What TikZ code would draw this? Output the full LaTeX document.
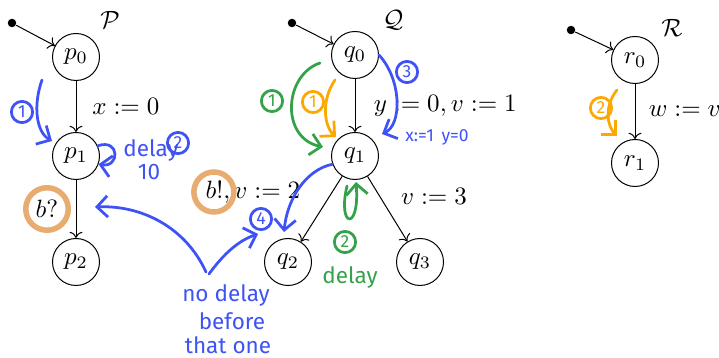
\documentclass[tikz,border=0pt]{standalone}
\usepackage{amsmath}
\usepackage{fontspec}
\newfontfamily\handfont{Fira Sans}
\usetikzlibrary{arrows.meta,positioning,calc}
\definecolor{penblue}{RGB}{62,82,245}
\definecolor{pengreen}{RGB}{52,162,72}
\definecolor{penorange}{RGB}{252,168,0}
\definecolor{markorange}{RGB}{232,172,112}
\tikzset{
  state/.style={draw, circle, minimum size=18.8pt, inner sep=0pt},
  init/.style={circle, fill, inner sep=1.2pt},
  pen/.style={line width=1.1pt, line cap=round, line join=round},
  penarrow/.style={pen, -{Straight Barb[length=1.5mm, width=3mm]}},
  note/.style={font=\handfont\small, inner sep=0pt},
  num/.style={draw, circle, pen, inner sep=0.4pt, minimum size=8.5pt, font=\handfont\scriptsize},
  hilite/.style={draw=markorange, line width=2.2pt},
}
\begin{document}
\begin{tikzpicture}[x=0.4pt, y=-0.4pt]
  \useasboundingbox (0,0) rectangle (719,358);
  % automaton P
  \node[state] (p0) at (76,57) {$p_0$};
  \node[state] (p1) at (76,156) {$p_1$};
  \node[state] (p2) at (76,262) {$p_2$};
  \node[init] (ip) at (12,23) {};
  \node (lP) at (110,20) {$\mathcal{P}$};
  \node[circle, hilite, minimum size=17pt, inner sep=0pt] (lbp) at (47,209) {$b?$};
  \draw[->] (ip) -- (p0);
  \draw[->] (p0) -- node[right=3pt] {$x := 0$} (p1);
  \draw[->] (p1) -- (p2);

  % automaton Q
  \node[state] (q0) at (355,55) {$q_0$};
  \node[state] (q1) at (355,156) {$q_1$};
  \node[state] (q2) at (288,262) {$q_2$};
  \node[state] (q3) at (420,262) {$q_3$};
  \node[init] (iq) at (292,23) {};
  \node (lQ) at (393,20) {$\mathcal{Q}$};
  \node (lq2) at (253,192) {$b!, v := 2$};
  \node (lq3) at (434,196) {$v := 3$};
  \draw[->] (iq) -- (q0);
  \draw[->] (q0) -- node[right=4pt] {$y := 0, v := 1$} (q1);
  \draw[->] (q1) -- (q2);
  \draw[->] (q1) -- (q3);
  \draw[hilite] ($(lq2.west)+(17,0)$) circle (8pt);

  % automaton R
  \node[state] (r0) at (635,60) {$r_0$};
  \node[state] (r1) at (635,163) {$r_1$};
  \node[init] (ir) at (571,30) {};
  \node (lR) at (672,28) {$\mathcal{R}$};
  \draw[->] (ir) -- (r0);
  \draw[->] (r0) -- node[right=2pt] {$w := v$} (r1);

  % blue notes
  \begin{scope}[penblue]
    \draw[penarrow] (42,80) .. controls (33,105) and (36,132) .. (52,141);
    \node[num] (b1) at (22,112) {1};
    \draw[penarrow] (p1.25) .. controls (120,138) and (120,168) .. (p1.-20);
    \node[note] (nd1) at (151,150) {delay};
    \node[num] (b2) at (178,143) {2};
    \node[note] (nd2) at (149,172) {10};
    \draw[penarrow] (q0.east) .. controls (402,80) and (402,125) .. (382,134);
    \node[num] (b3) at (407,72) {3};
    \node[note, font=\handfont\scriptsize] (nxy) at (437,137) {x:=1\, y=0};
    \draw[penarrow] (q1.-160) .. controls (305,170) and (287,200) .. (284,232);
    \node[note] (nn1) at (226,295) {no delay};
    \node[note] (nn2) at (232,321) {before};
    \node[note] (nn3) at (228,345) {that one};
    \coordinate (nfoot) at (206,272);
    \draw[penarrow] (nfoot) .. controls (185,226) and (140,205) .. (95,207);
    \draw[penarrow] ($(nfoot)+(3,2)$) .. controls (225,252) and (240,240) .. (258,234);
    \node[num] (b4) at (261,219) {4};
  \end{scope}

  % green notes
  \begin{scope}[pengreen]
    \draw[penarrow] (320,63) .. controls (284,75) and (280,138) .. (323,147);
    \node[num] (g1) at (272,101) {1};
    \draw[penarrow] (347,186) .. controls (337,228) and (360,232) .. (356,182);
    \node[num] (g2) at (345,242) {2};
    \node[note] (ngd) at (350,277) {delay};
  \end{scope}

  % orange notes
  \begin{scope}[penorange]
    \draw[penarrow] (335,80) .. controls (321,100) and (324,126) .. (336,137);
    \node[num] (o1) at (313,102) {1};
    \draw[penarrow] (617,90) .. controls (604,106) and (607,126) .. (617,136);
    \node[num] (o2) at (601,108) {2};
  \end{scope}
\end{tikzpicture}
\end{document}
